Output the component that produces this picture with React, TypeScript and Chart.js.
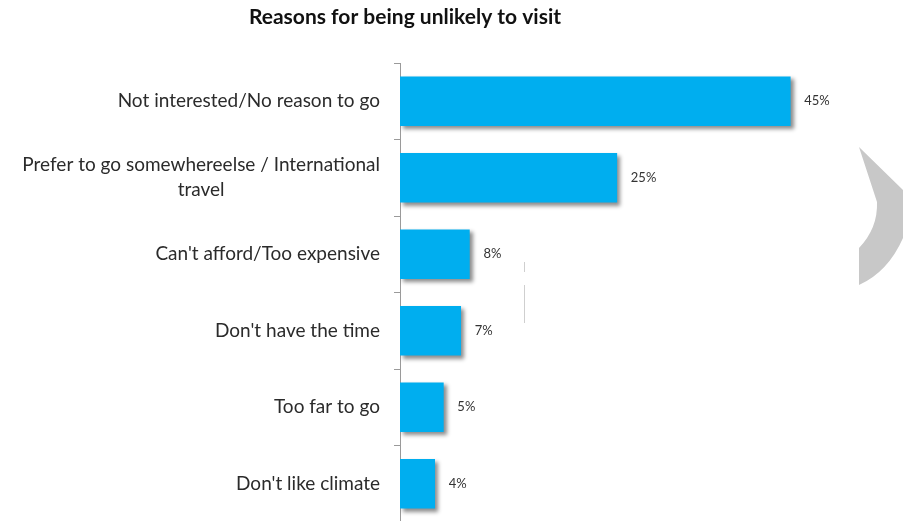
import React, { useEffect, useRef } from "react";
import { Chart, registerables } from "chart.js";

Chart.register(...registerables);

const TITLE = "Reasons for being unlikely to visit";
const categories: string[][] = [
  ["Not interested/No reason to go"],
  ["Prefer to go somewhereelse / International", "travel"],
  ["Can't afford/Too expensive"],
  ["Don't have the time"],
  ["Too far to go"],
  ["Don't like climate"],
];
const values = [45, 25, 8, 7, 5, 4];
const valueLabels = ["45%", "25%", "8%", "7%", "5%", "4%"];

const FONT = "Lato, 'Open Sans', sans-serif";

const shadowPlugin = {
  id: "barShadow",
  beforeDatasetsDraw(chart: any) {
    const ctx = chart.ctx;
    ctx.save();
    ctx.shadowColor = "rgba(0,0,0,0.45)";
    ctx.shadowOffsetX = 3;
    ctx.shadowOffsetY = 3;
    ctx.shadowBlur = 4;
  },
  afterDatasetsDraw(chart: any) {
    chart.ctx.restore();
  },
};

const labelPlugin = {
  id: "customLabels",
  afterDraw(chart: any) {
    const ctx = chart.ctx;
    const yScale = chart.scales.y;
    const meta = chart.getDatasetMeta(0);
    ctx.save();
    // title
    ctx.font = `bold 21px ${FONT}`;
    ctx.fillStyle = "#111111";
    ctx.textAlign = "center";
    ctx.textBaseline = "middle";
    ctx.fillText(TITLE, 405, 17);
    // category labels
    ctx.font = `19px ${FONT}`;
    ctx.fillStyle = "#2b2b2b";
    ctx.textBaseline = "middle";
    ctx.textAlign = "center";
    const rightEdge = yScale.right - 20;
    const lineH = 25;
    categories.forEach((lines, i) => {
      const y = yScale.getPixelForValue(i);
      const w = Math.max(...lines.map((l) => ctx.measureText(l).width));
      const cx = rightEdge - w / 2;
      const startY = y - ((lines.length - 1) * lineH) / 2;
      lines.forEach((l, j) => ctx.fillText(l, cx, startY + j * lineH));
    });
    // value labels
    ctx.font = `13px ${FONT}`;
    ctx.fillStyle = "#333333";
    ctx.textAlign = "left";
    meta.data.forEach((bar: any, i: number) => {
      ctx.fillText(valueLabels[i], bar.x + 14, bar.y);
    });
    // decorative slide artifacts
    ctx.fillStyle = "#c8c8c8";
    ctx.beginPath();
    ctx.moveTo(859, 147);
    ctx.lineTo(903, 190);
    ctx.lineTo(903, 238);
    ctx.quadraticCurveTo(888, 272, 859, 285);
    ctx.lineTo(859, 248);
    ctx.quadraticCurveTo(878, 228, 877, 202);
    ctx.closePath();
    ctx.fill();
    ctx.strokeStyle = "#cfcfcf";
    ctx.lineWidth = 1;
    ctx.beginPath();
    ctx.moveTo(524.5, 262);
    ctx.lineTo(524.5, 272);
    ctx.moveTo(524.5, 285);
    ctx.lineTo(524.5, 323);
    ctx.stroke();
    ctx.restore();
  },
};

export default function App() {
  const ref = useRef<HTMLCanvasElement>(null);
  useEffect(() => {
    const canvas = ref.current!;
    const chart = new Chart(canvas, {
      type: "bar",
      data: {
        labels: categories.map((c) => c.join(" ")),
        datasets: [
          {
            data: values,
            backgroundColor: "#00AEEF",
            borderWidth: 0,
            barThickness: 49,
          },
        ],
      },
      plugins: [shadowPlugin, labelPlugin],
      options: {
        indexAxis: "y",
        animation: false,
        responsive: false,
        devicePixelRatio: 1,
        layout: { padding: { left: 0, right: 26, top: 63, bottom: 8 } },
        plugins: {
          legend: { display: false },
          tooltip: { enabled: false },
          title: { display: false },
        },
        scales: {
          x: { display: false, min: 0, max: 55 },
          y: {
            afterFit(scale: any) {
              scale.width = 400;
            },
            ticks: { display: false },
            grid: {
              display: true,
              drawOnChartArea: false,
              drawTicks: true,
              tickLength: 6,
              color: "#9a9a9a",
              offset: true,
            },
            border: { display: true, color: "#9a9a9a" },
          },
        },
      },
    });
    return () => chart.destroy();
  }, []);
  return (
    <div style={{ position: "fixed", left: 0, top: 0, width: 903, height: 530, background: "#fff" }}>
      <canvas ref={ref} width={903} height={530} style={{ display: "block" }} />
    </div>
  );
}
